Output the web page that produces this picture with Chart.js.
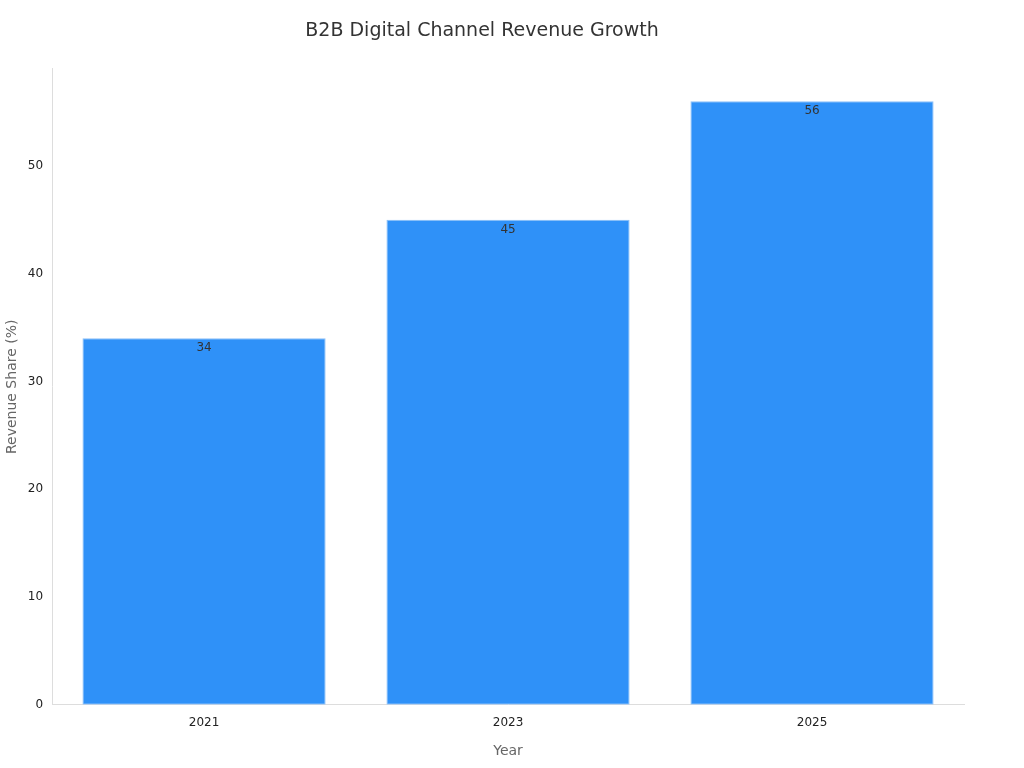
<!DOCTYPE html>
<html><head><meta charset="utf-8">
<script src="https://cdn.jsdelivr.net/npm/chart.js@4/dist/chart.umd.min.js"></script>
<style>html,body{margin:0;background:#fff}#w{width:1024px;height:768px}</style>
</head><body><div id="w"><canvas id="c"></canvas></div>
<script>
const categories = ["2021", "2023", "2025"];
const revenueShare = [34, 45, 56];
const yTicks = [0, 10, 20, 30, 40, 50];

const labelPlugin = {
  id: 'vals',
  afterDatasetsDraw(chart) {
    const ctx = chart.ctx;
    const meta = chart.getDatasetMeta(0);
    ctx.save();
    ctx.fillStyle = '#333';
    ctx.font = '12px "DejaVu Sans"';
    ctx.textAlign = 'center';
    ctx.textBaseline = 'top';
    meta.data.forEach((b, i) => ctx.fillText(String(revenueShare[i]), b.x, b.y + 4));
    ctx.restore();
  }
};

new Chart(document.getElementById('c'), {
  type: 'bar',
  data: { labels: categories, datasets: [{ data: revenueShare, backgroundColor: '#2F91F8', borderColor: '#8CC0F8', borderWidth: 1, borderSkipped: false, barPercentage: 0.8, categoryPercentage: 1.0 }] },
  options: {
    responsive: true, maintainAspectRatio: false, animation: false,
    layout: { padding: { top: 10, right: 60, left: 0, bottom: 4 } },
    plugins: {
      legend: { display: false }, tooltip: { enabled: false },
      title: { display: true, text: 'B2B Digital Channel Revenue Growth', color: '#333', font: { family: 'DejaVu Sans', size: 19, weight: 'normal' }, padding: { top: 10, bottom: 26 } }
    },
    scales: {
      x: { grid: { display: false, drawTicks: true }, border: { color: '#ddd' },
           ticks: { color: '#222', font: { family: 'DejaVu Sans', size: 12 } },
           title: { display: true, text: 'Year', color: '#666', font: { family: 'DejaVu Sans', size: 14 }, padding: { top: 10 } } },
      y: { min: 0, max: 59, grid: { display: false, drawTicks: true, tickLength: 6, color: '#aaa' }, border: { color: '#ddd' },
           afterBuildTicks: (s) => { s.ticks = yTicks.map(v => ({ value: v })); },
           ticks: { color: '#222', font: { family: 'DejaVu Sans', size: 12 } },
           title: { display: true, text: 'Revenue Share (%)', color: '#666', font: { family: 'DejaVu Sans', size: 14 } } }
    }
  },
  plugins: [labelPlugin]
});
</script></body></html>
